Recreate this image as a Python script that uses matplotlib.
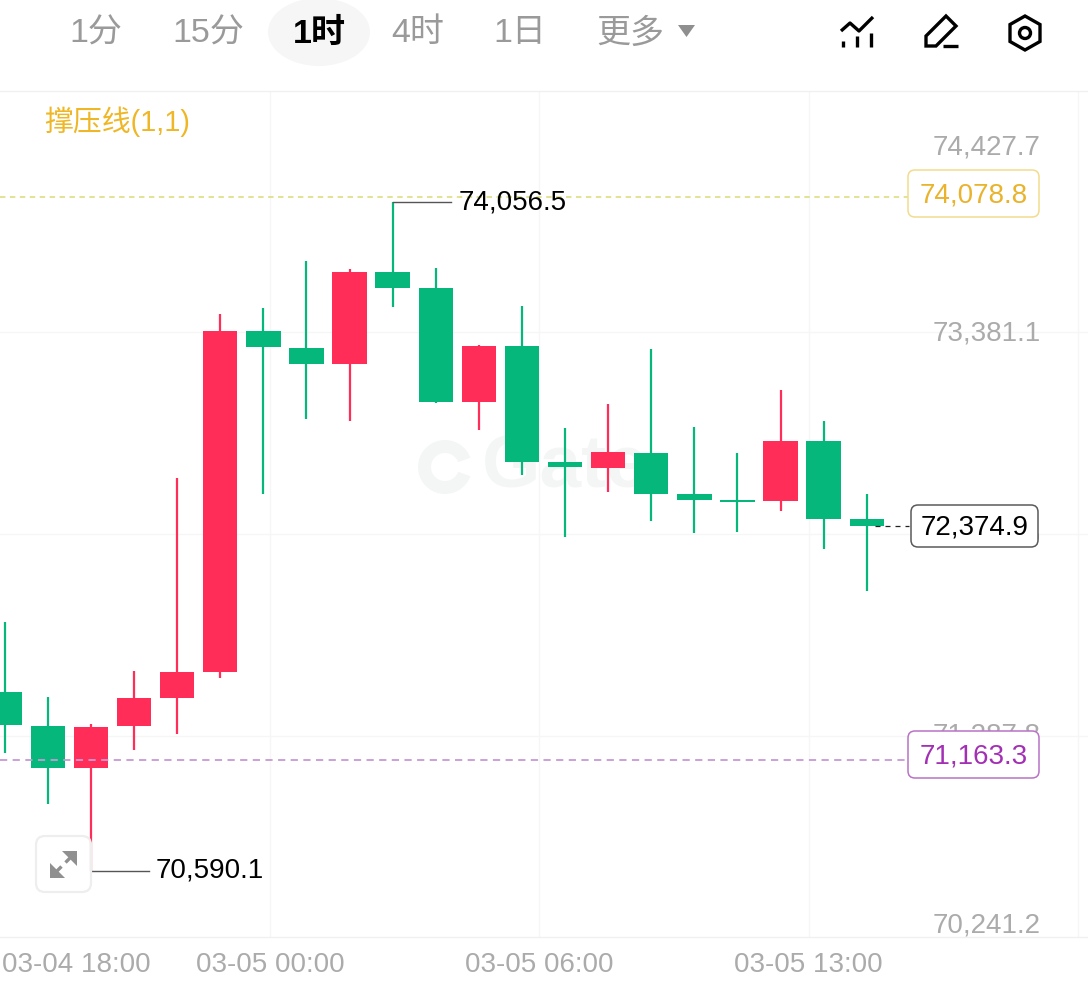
import numpy as np
from matplotlib import pyplot as plt
from matplotlib.patches import Ellipse, FancyBboxPatch, Polygon, Wedge, Circle

plt.rcParams['font.family'] = ['Liberation Sans', 'Noto Sans CJK SC']

# candle values
opens = [71515.9, 71339.8, 71122.2, 71339.8, 71484.9, 71619.6, 73386.3, 73298.2, 73215.3, 73692.0, 73609.1,
         73018.4, 73308.6, 72707.6, 72676.5, 72754.2, 72541.8, 72510.7, 72505.5, 72816.4, 72412.2]
closes = [71345.0, 71122.2, 71334.6, 71484.9, 71619.6, 73386.3, 73303.4, 73215.3, 73692.0, 73609.1, 73018.4,
          73308.6, 72707.6, 72681.7, 72759.4, 72541.8, 72510.7, 72500.3, 72816.4, 72412.2, 72374.9]
highs = [71878.6, 71490.0, 71350.1, 71624.7, 72624.7, 73474.4, 73505.4, 73749.0, 73707.5, 74056.5, 73712.7,
         73313.7, 73515.8, 72883.7, 73008.1, 73293.0, 72888.9, 72754.2, 73080.6, 72920.0, 72541.8]
lows = [71199.9, 70935.7, 70590.1, 71215.4, 71298.3, 71588.5, 72541.8, 72930.4, 72920.0, 73510.6, 73013.2,
        72873.4, 72640.2, 72319.0, 72552.1, 72401.9, 72339.7, 72344.9, 72453.7, 72256.8, 72039.2]

grid_prices = [73381.1, 72334.5, 71287.8]
axis_labels = ['74,427.7', '73,381.1', '72,334.5', '71,287.8', '70,241.2']
time_labels = ['03-04 18:00', '03-05 00:00', '03-05 06:00', '03-05 13:00']
time_pos = [1.67, 6.15, 12.4, 18.65]
grid_times = [6.15, 12.4, 18.65, 24.9]
tabs = ['1分', '15分', '1时', '4时', '1日', '更多']

resist = 74078.8
support = 71163.3
last = 72374.9
top = 74056.5
bottom = 70590.1

W, H = 1088, 981
GREEN = '#05b77b'
RED = '#ff2d58'
GREY = '#ababab'
GRID = '#f6f6f6'
NUM = 20

fig = plt.figure(figsize=(W/100, H/100), dpi=100, facecolor='white')

ax = fig.add_axes([0, (H-937)/H, 1, (937-91)/H])
ax.set_xlim(-0.11, 25.133)
ax.set_ylim(70246.6, 74629.7)
for s in ['left', 'right']:
    ax.spines[s].set_visible(False)
for s in ['top', 'bottom']:
    ax.spines[s].set_color('#f0f0f0')
    ax.spines[s].set_linewidth(1)
ax.set_yticks(grid_prices)
ax.set_xticks(grid_times)
ax.tick_params(length=0, labelleft=False, labelbottom=False)
ax.grid(color=GRID, linewidth=1)
ax.set_axisbelow(True)

# watermark
ax.text(13.0, 72680, 'Gate', fontsize=54, fontweight='bold', color='#f4f6f6',
        ha='center', va='center', zorder=1)

x = np.arange(len(opens))
o = np.array(opens)
c = np.array(closes)
cols = [GREEN if cc < oo else RED for oo, cc in zip(o, c)]

ax.vlines(x, lows, highs, colors=cols, linewidth=1.6, zorder=3)
ax.bar(x, np.abs(c-o), bottom=np.minimum(o, c), width=0.8, color=cols, linewidth=0, zorder=4)

ax.axhline(resist, xmax=908/W, color='#dfe08a', linewidth=1.3, linestyle=(0, (3, 2.5)), zorder=2)
ax.axhline(support, xmax=908/W, color='#c79ad6', linewidth=1.3, linestyle=(0, (4, 3)), zorder=5)
ax.plot([20.2, 20.97], [last, last], color='#222222', linewidth=0.9, linestyle=(0, (4, 4)), zorder=5)

# high / low markers
ax.plot([9, 10.35], [top, top], color='#555555', linewidth=1, zorder=5)
ax.annotate(f'{top:,.1f}', (10.52, top), xytext=(0, -1), textcoords='offset pixels',
            fontsize=NUM, color='black', va='center', zorder=6)
ax.plot([2, 3.35], [bottom, bottom], color='#555555', linewidth=1, zorder=5)
ax.annotate(f'{bottom:,.1f}', (3.5, bottom), xytext=(0, 0), textcoords='offset pixels',
            fontsize=NUM, color='black', va='center', zorder=6)

for t, lab in zip(time_pos, time_labels):
    ax.text(t, -0.033, lab, fontsize=NUM, color=GREY, ha='center', va='center',
            transform=ax.get_xaxis_transform(), clip_on=False)

# overlay in picture pixels for toolbar, boxes and icons
ov = fig.add_axes([0, 0, 1, 1], facecolor='none', zorder=10)
ov.set_xlim(0, W)
ov.set_ylim(H, 0)
ov.axis('off')

ov.add_patch(Ellipse((319, 32), 102, 68, color='#f6f6f6', linewidth=0))
for lab, tx in zip(tabs, [96, 208, 319, 418, 520, 630]):
    ov.text(tx, 34, lab, fontsize=24.5, ha='center', va='center',
            color='black' if lab == '1时' else '#9a9a9a',
            fontweight='bold' if lab == '1时' else 'normal')
ov.add_patch(Polygon([(678, 25), (695, 25), (686.5, 37)], color='#8f8f8f', linewidth=0))

# toolbar icons
k = dict(color='black', linewidth=2.4, solid_capstyle='butt')
ov.plot([841, 850, 859, 873], [31, 23, 31, 17], **k)
ov.plot([843, 843], [41, 47], **k)
ov.plot([857, 857], [36, 47], **k)
ov.plot([871, 871], [33, 47], **k)
ov.add_patch(Polygon([(926, 36), (946, 16), (956, 26), (936, 46), (926, 46)],
                     fill=False, edgecolor='black', linewidth=2.4))
ov.plot([943, 958], [46, 46], **k)
ov.add_patch(Polygon([(1025, 16), (1040, 24.5), (1040, 41.5), (1025, 50), (1010, 41.5), (1010, 24.5)],
                     fill=False, edgecolor='black', linewidth=2.4))
ov.add_patch(Circle((1025, 33), 5.5, fill=False, edgecolor='black', linewidth=2.4))

ov.text(44, 122, '撑压线(1,1)', fontsize=20.8, color='#efb726', va='center')

# watermark logo ring
ov.add_patch(Wedge((445, 467), 27, 20, 340, width=13, color='#f4f6f6', linewidth=0, zorder=0))

# axis labels, the middle ones sit under the value boxes
for lab, ty in zip(axis_labels, [147, 333, 536, 736, 925]):
    ov.text(1041, ty, lab, fontsize=NUM, color=GREY, ha='right', va='center', zorder=1)


def value_box(val, x0, x1, y0, y1, edge, col):
    ov.add_patch(FancyBboxPatch((x0, y0), x1-x0, y1-y0, boxstyle='round,pad=0,rounding_size=7',
                                facecolor='white', edgecolor=edge, linewidth=1.1, zorder=3))
    ov.text((x0+x1)/2, (y0+y1)/2 + 2, f'{val:,.1f}', fontsize=NUM, color=col,
            ha='center', va='center', zorder=4)


value_box(resist, 908, 1039, 170, 217, '#f2dc8e', '#e9b32c')
value_box(last, 911, 1038, 505, 547, '#5a5a5a', 'black')
value_box(support, 908, 1039, 731, 778, '#b873c6', '#a32fb5')

# expand button
ov.add_patch(FancyBboxPatch((36, 836), 55, 56, boxstyle='round,pad=0,rounding_size=9',
                            facecolor=(1, 1, 1, 0.5), edgecolor='#eeeeee', linewidth=1.6, zorder=3))
a = dict(color='#909090', linewidth=0, zorder=4)
ov.add_patch(Polygon([(77, 851), (77, 866), (62, 851)], **a))
ov.add_patch(Polygon([(50, 878), (50, 863), (65, 878)], **a))
ov.plot([71, 65.5], [857, 862.5], color='#909090', linewidth=2.4, zorder=4, solid_capstyle='butt')
ov.plot([56, 61.5], [872, 866.5], color='#909090', linewidth=2.4, zorder=4, solid_capstyle='butt')

fig.savefig('out.png', dpi=100)
